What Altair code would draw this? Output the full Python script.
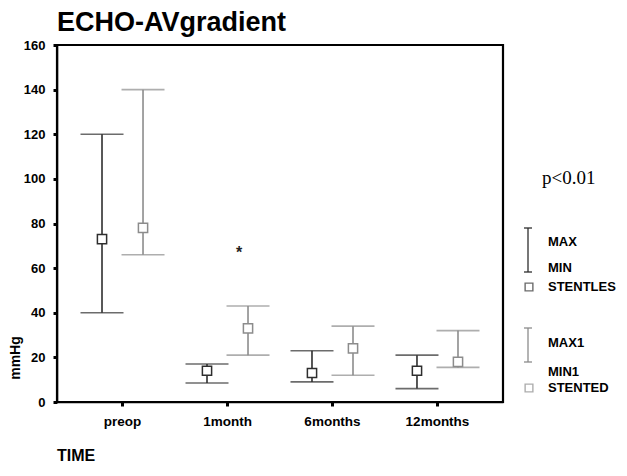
import altair as alt
import pandas as pd

times = ["preop", "1month", "6months", "12months"]
groups = ["STENTLES", "STENTED"]
stentles_max = [120, 17, 23, 21]
stentles_min = [40, 8.5, 9, 6]
stentles_mid = [73, 14, 13, 14]
stented_max = [140, 43, 34, 32]
stented_min = [66, 21, 12, 15.5]
stented_mid = [78, 33, 24, 18]
y_ticks = [0, 20, 40, 60, 80, 100, 120, 140, 160]
star_time = ["1month"]
star_group = ["STENTED"]
star_value = [67]

rows = []
for i, t in enumerate(times):
    rows.append(dict(time=t, group="STENTLES", vmax=stentles_max[i], vmin=stentles_min[i], mid=stentles_mid[i]))
    rows.append(dict(time=t, group="STENTED", vmax=stented_max[i], vmin=stented_min[i], mid=stented_mid[i]))
df = pd.DataFrame(rows)
star_df = pd.DataFrame(dict(time=star_time, group=star_group, v=star_value, s=["*"]))

FONT = "Liberation Sans"
W, H = 446, 357
DARK, LIGHT = "#2e2e2e", "#8c8c8c"

xenc = alt.X("time:N", sort=times,
             scale=alt.Scale(paddingInner=0, paddingOuter=0.124),
             axis=alt.Axis(title=None, labelAngle=0, tickSize=4, tickWidth=3, tickColor="black",
                           labelFont=FONT, labelFontWeight="bold", labelFontSize=13.5,
                           labelColor="black", labelPadding=8, domainColor="black", domainWidth=1.5))
yenc = alt.Y("vmax:Q", scale=alt.Scale(domain=[0, 160], nice=False),
             axis=alt.Axis(title=None, values=y_ticks, tickSize=4, tickWidth=3, tickColor="black",
                           labelFont=FONT, labelFontWeight="bold", labelFontSize=13,
                           labelColor="black", labelPadding=8, domainColor="black",
                           domainWidth=1.5, grid=False))
xoff = alt.XOffset("group:N", sort=groups, scale=alt.Scale(type="point", padding=0.78))
color = alt.Color("group:N", scale=alt.Scale(domain=groups, range=[DARK, LIGHT]), legend=None)

base = alt.Chart(df).encode(x=xenc, xOffset=xoff, color=color)

whisk = base.mark_rule(strokeWidth=1.6).encode(y=yenc, y2="vmin:Q")
cap_top = base.mark_tick(size=43, thickness=1.6, orient="horizontal").encode(y=alt.Y("vmax:Q"))
cap_bot = base.mark_tick(size=43, thickness=1.6, orient="horizontal").encode(y=alt.Y("vmin:Q"))
mids = base.mark_point(shape="square", size=85, filled=False, fill="white", fillOpacity=1,
                       strokeWidth=1.5, opacity=1).encode(
    y=alt.Y("mid:Q"),
    stroke=alt.Stroke("group:N", scale=alt.Scale(domain=groups, range=[DARK, LIGHT]), legend=None))

star = alt.Chart(star_df).mark_text(font=FONT, fontSize=16, fontWeight="bold", color="#222",
                                     dx=-9, baseline="middle").encode(
    x=alt.X("time:N", sort=times), xOffset=alt.XOffset("group:N", sort=groups),
    y=alt.Y("v:Q"), text="s:N")

one = pd.DataFrame({"a": [0]})

def txt(s, x, y, size=13, font=FONT, weight="bold", align="left", angle=0, baseline="middle"):
    kw = dict(text=s, font=font, fontSize=size, fontWeight=weight, align=align,
              baseline=baseline, color="black")
    if angle:
        kw["angle"] = angle
    return alt.Chart(one).mark_text(**kw).encode(x=alt.value(x), y=alt.value(y))

def vline(x, y1, y2, color, w=1.3):
    return alt.Chart(one).mark_rule(color=color, strokeWidth=w).encode(
        x=alt.value(x), y=alt.value(y1), y2=alt.value(y2))

def hline(x1, x2, y, color, w=1.3):
    return alt.Chart(one).mark_rule(color=color, strokeWidth=w).encode(
        x=alt.value(x1), x2=alt.value(x2), y=alt.value(y))

def sq(x, y, color):
    return alt.Chart(one).mark_point(shape="square", size=60, filled=False, color=color,
                                     strokeWidth=1.4).encode(x=alt.value(x), y=alt.value(y))

deco = [
    txt("ECHO-AVgradient", 0, -14, size=27, weight="bold", baseline="alphabetic"),
    txt("mmHg", -41, 313, size=14, angle=270, align="center"),
    txt("TIME", 0, 416, size=16, baseline="alphabetic"),
    txt("p<0.01", 485, 133, size=19, font="Liberation Serif", weight="normal"),
    vline(471, 183, 227, DARK), hline(467, 475, 183, DARK), hline(467, 475, 227, DARK),
    txt("MAX", 491, 197), txt("MIN", 491, 223),
    sq(472, 242, DARK), txt("STENTLES", 491, 242),
    vline(471, 283, 317, LIGHT), hline(467, 475, 283, LIGHT), hline(467, 475, 317, LIGHT),
    txt("MAX1", 491, 298), txt("MIN1", 491, 327),
    sq(472, 343, LIGHT), txt("STENTED", 491, 343),
]

chart = alt.layer(whisk, cap_top, cap_bot, mids, star, *deco).properties(
    width=W, height=H,
    autosize=alt.AutoSizeParams(type="none"),
    padding={"left": 49, "top": 37, "right": 116, "bottom": 64},
    background="white",
).configure_view(stroke="black", strokeWidth=2.2)

chart.save("out.html", embed_options={"renderer": "svg", "actions": False})
